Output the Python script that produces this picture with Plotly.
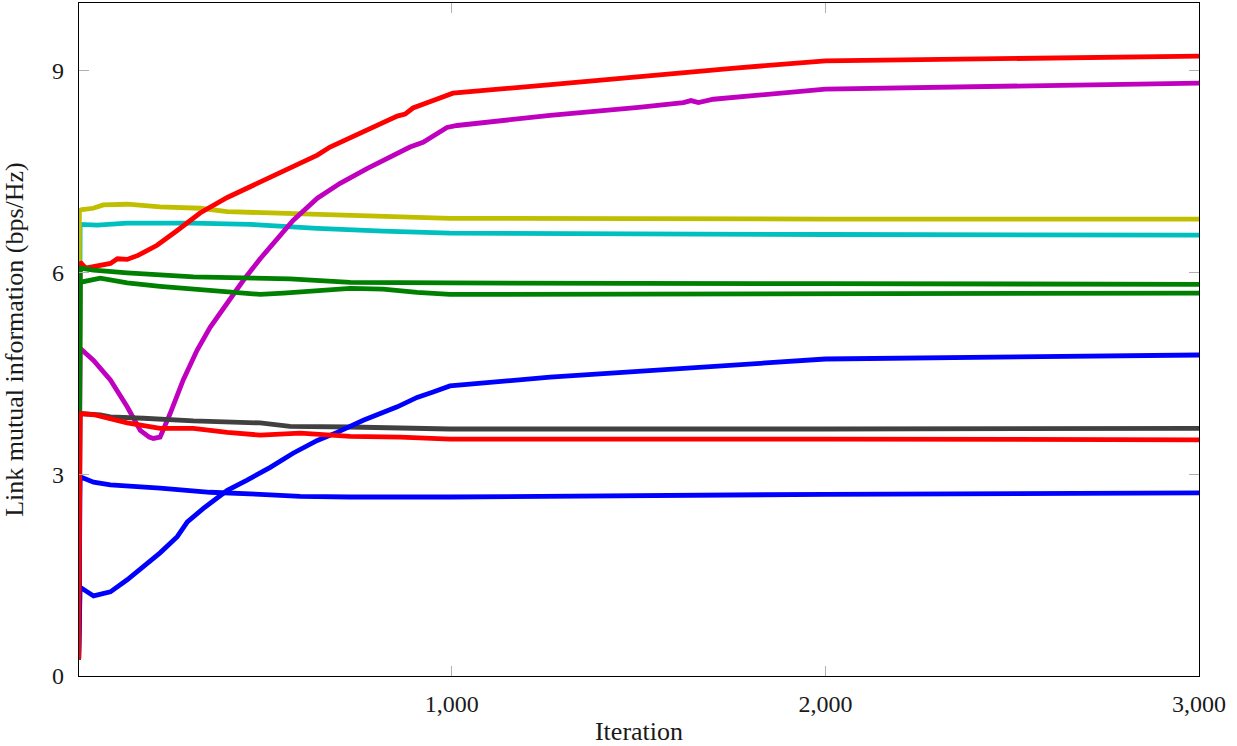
import plotly.graph_objects as go

# ---- data ----
red_hi_x = [1, 5, 20, 59, 86, 105, 131, 160, 211, 265, 326, 399, 468, 514, 575, 640, 674, 701, 755, 816, 854, 875, 896, 950, 1003, 1250, 1500, 1750, 2000, 3000]
red_hi_y = [0.25, 6.15, 6.06, 6.10, 6.13, 6.20, 6.19, 6.25, 6.40, 6.62, 6.88, 7.11, 7.29, 7.40, 7.57, 7.74, 7.86, 7.93, 8.06, 8.23, 8.32, 8.35, 8.44, 8.55, 8.66, 8.78, 8.91, 9.03, 9.14, 9.21]

mag_x = [1, 5, 41, 86, 131, 166, 190, 201, 219, 246, 281, 318, 353, 399, 442, 487, 514, 575, 640, 701, 773, 835, 888, 923, 950, 987, 1014, 1263, 1500, 1620, 1640, 1660, 1700, 2000, 3000]
mag_y = [0.25, 4.87, 4.69, 4.40, 4.00, 3.65, 3.55, 3.53, 3.55, 3.90, 4.40, 4.84, 5.18, 5.54, 5.88, 6.20, 6.37, 6.77, 7.10, 7.32, 7.54, 7.71, 7.86, 7.93, 8.03, 8.15, 8.18, 8.33, 8.45, 8.52, 8.55, 8.52, 8.57, 8.72, 8.81]

yel_x = [1, 3, 10, 40, 67, 131, 219, 326, 399, 468, 532, 728, 995, 2000, 3000]
yel_y = [0.25, 6.92, 6.93, 6.95, 7.00, 7.01, 6.97, 6.95, 6.90, 6.89, 6.88, 6.85, 6.80, 6.79, 6.79]

cyan_x = [1, 5, 51, 131, 308, 460, 549, 640, 816, 995, 2000, 3000]
cyan_y = [0.25, 6.71, 6.70, 6.73, 6.73, 6.71, 6.68, 6.65, 6.61, 6.58, 6.56, 6.55]

grn1_x = [1, 5, 41, 131, 308, 460, 567, 728, 995, 2000, 3000]
grn1_y = [0.25, 6.06, 6.03, 5.99, 5.93, 5.92, 5.90, 5.85, 5.84, 5.83, 5.82]

grn2_x = [1, 5, 59, 131, 219, 308, 399, 487, 549, 640, 728, 816, 907, 995, 2000, 3000]
grn2_y = [0.25, 5.85, 5.91, 5.84, 5.79, 5.75, 5.71, 5.67, 5.69, 5.73, 5.76, 5.75, 5.70, 5.67, 5.68, 5.69]

blue_up_x = [1, 5, 41, 86, 131, 185, 219, 265, 292, 335, 399, 452, 514, 575, 640, 693, 763, 854, 888, 907, 950, 995, 1263, 2000, 3000]
blue_up_y = [0.25, 1.32, 1.19, 1.25, 1.43, 1.68, 1.83, 2.07, 2.29, 2.49, 2.76, 2.91, 3.10, 3.31, 3.50, 3.62, 3.80, 4.00, 4.10, 4.14, 4.22, 4.31, 4.44, 4.71, 4.77]

gray_x = [1, 5, 59, 86, 174, 308, 487, 567, 728, 995, 2000, 3000]
gray_y = [0.25, 3.90, 3.88, 3.85, 3.83, 3.79, 3.76, 3.71, 3.70, 3.67, 3.67, 3.68]

red_lo_x = [1, 5, 45, 86, 131, 219, 308, 399, 487, 594, 728, 862, 995, 2000, 3000]
red_lo_y = [0.25, 3.90, 3.88, 3.82, 3.76, 3.68, 3.68, 3.62, 3.58, 3.61, 3.56, 3.55, 3.52, 3.52, 3.51]

blue_lo_x = [1, 5, 41, 86, 219, 353, 487, 594, 728, 995, 2000, 3000]
blue_lo_y = [0.25, 2.96, 2.88, 2.84, 2.79, 2.73, 2.70, 2.67, 2.66, 2.66, 2.70, 2.72]

x_tickvals = [1000, 2000, 3000]
x_ticktext = ["1,000", "2,000", "3,000"]
y_tickvals = [0, 3, 6, 9]
y_ticktext = ["0", "3", "6", "9"]

# draw order (bottom -> top)
series = [
    (cyan_x, cyan_y, "#00bfbf"),
    (yel_x, yel_y, "#bfbf00"),
    (mag_x, mag_y, "#bf00bf"),
    (red_hi_x, red_hi_y, "#ff0000"),
    (grn1_x, grn1_y, "#008000"),
    (grn2_x, grn2_y, "#008000"),
    (gray_x, gray_y, "#404040"),
    (blue_lo_x, blue_lo_y, "#0000ff"),
    (blue_up_x, blue_up_y, "#0000ff"),
    (red_lo_x, red_lo_y, "#ff0000"),
]

FONT = "Liberation Serif"
TICK_SIZE = 24
TITLE_SIZE = 26

fig = go.Figure()
for xs, ys, col in series:
    fig.add_trace(go.Scatter(x=xs, y=ys, mode="lines",
                             line=dict(color=col, width=4.8),
                             showlegend=False, hoverinfo="skip"))

fig.update_layout(
    width=1237, height=746,
    margin=dict(l=79, r=38, t=3, b=70),
    paper_bgcolor="white", plot_bgcolor="white",
    font=dict(family=FONT, size=TICK_SIZE, color="#1a1a1a"),
    showlegend=False,
)
fig.update_xaxes(
    range=[2, 3000], tickvals=x_tickvals, ticktext=x_ticktext,
    showgrid=False, zeroline=False,
    showline=True, linecolor="black", linewidth=1.2, mirror="ticks",
    ticks="inside", ticklen=10, tickwidth=1, tickcolor="#b0b0b0",
    tickfont=dict(family=FONT, size=TICK_SIZE, color="#1a1a1a"),
    ticklabelstandoff=6,
    title=dict(text="Iteration", font=dict(family=FONT, size=TITLE_SIZE, color="#1a1a1a"), standoff=14),
    automargin=False,
)
fig.update_yaxes(
    range=[0, 10], tickvals=y_tickvals, ticktext=y_ticktext,
    showgrid=False, zeroline=False,
    showline=True, linecolor="black", linewidth=1.2, mirror="ticks",
    ticks="inside", ticklen=10, tickwidth=1, tickcolor="#b0b0b0",
    tickfont=dict(family=FONT, size=TICK_SIZE, color="#1a1a1a"),
    ticklabelstandoff=9,
    title=dict(text="Link mutual information (bps/Hz)", font=dict(family=FONT, size=TITLE_SIZE, color="#1a1a1a"), standoff=20),
    automargin=False,
)

fig.write_html("out.html")
